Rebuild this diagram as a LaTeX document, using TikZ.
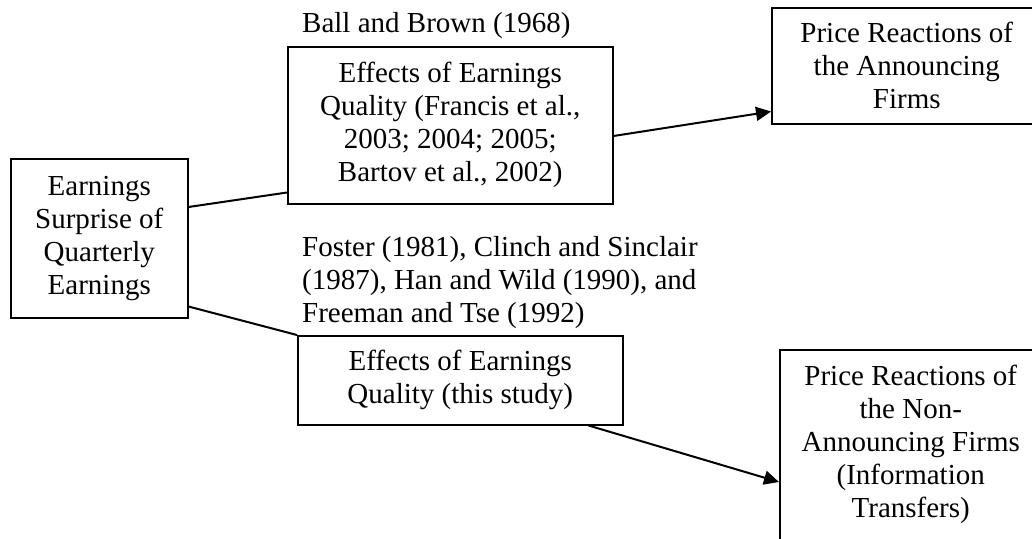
\documentclass[tikz,border=0pt]{standalone}
\usepackage{fontspec}
\setmainfont{Liberation Serif}
\usetikzlibrary{arrows.meta}
\tikzset{
	box/.style={draw, line width=1.5pt, align=center, inner sep=0pt, anchor=north west},
	link/.style={line width=2pt},
	arr/.style={line width=2pt, -{Triangle[length=15pt,width=14pt]}},
	lbl/.style={align=left, inner sep=0pt, anchor=north west}
}
\begin{document}
\begin{tikzpicture}[x=1pt,y=-1pt,font=\fontsize{29}{33}\selectfont]
	\useasboundingbox (0,0) rectangle (1032,538);
	\clip (0,0) rectangle (1032,538);
	
	\node[box, minimum width=177pt, minimum height=159pt] (surprise) at (10,158) {Earnings\\Surprise of\\Quarterly\\Earnings};
	\node[box, minimum width=325pt, minimum height=157pt] (quality) at (287,46) {Effects of Earnings\\Quality (Francis et al.,\\2003; 2004; 2005;\\Bartov et al., 2002)};
	\node[box, minimum width=325pt, minimum height=89pt] (study) at (297,335) {Effects of Earnings\\Quality (this study)};
	\node[box, minimum width=270pt, minimum height=116pt] (announce) at (771,7) {Price Reactions of\\the Announcing\\Firms};
	\node[box, minimum width=262pt, minimum height=190pt] (transfer) at (779,349) {Price Reactions of\\the Non-\\Announcing Firms\\(Information\\Transfers)};
	
	\node[lbl] (ballbrown) at (302,12) {Ball and Brown (1968)};
	\node[lbl] (foster) at (302,236) {Foster (1981), Clinch and Sinclair\\(1987), Han and Wild (1990), and\\Freeman and Tse (1992)};
	
	\draw[link] ([yshift=-49pt]surprise.north east) -- ([yshift=12pt]quality.south west);
	\draw[link] ([yshift=12pt]surprise.south east) -- (study.north west);
	\draw[arr] ([yshift=-90pt]quality.north east) -- ([yshift=13pt]announce.south west);
	\draw[arr] ([xshift=-35pt]study.south east) -- ([yshift=-133pt]transfer.north west);
\end{tikzpicture}
\end{document}
